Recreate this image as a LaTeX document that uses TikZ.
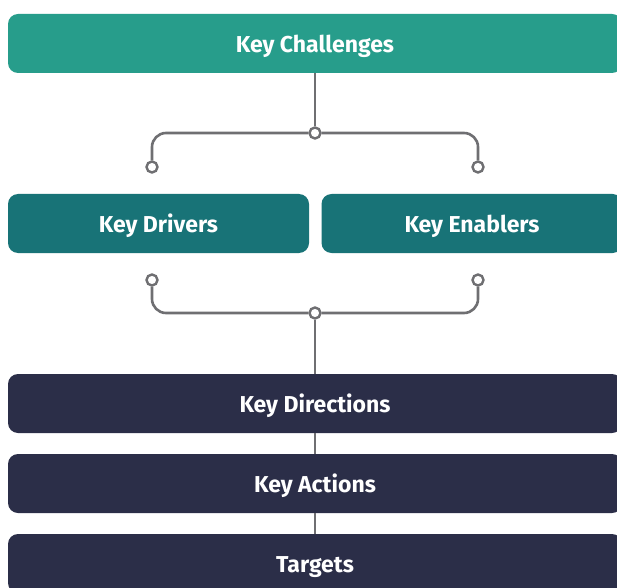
\documentclass[tikz,border=0pt]{standalone}
\usepackage{fontspec}
\setmainfont{Fira Sans}
\usepackage{tikz}
\usetikzlibrary{positioning, calc}

\definecolor{tealA}{HTML}{279D8B}
\definecolor{tealB}{HTML}{187377}
\definecolor{navy}{HTML}{2B2E48}
\definecolor{linegray}{HTML}{6F6F72}

\begin{document}
\begin{tikzpicture}[x=1pt, y=1pt,
    box/.style={rounded corners=10pt, minimum height=59pt, inner sep=0pt,
        text height=18.5pt, text depth=0pt,
        text=white, font=\fontsize{23}{27}\selectfont\bfseries},
    wide/.style={box, minimum width=614pt},
    half/.style={box, minimum width=301pt},
    conn/.style={draw=linegray, line width=2.6pt},
    jdot/.style={circle, draw=linegray, line width=2.4pt, fill=white, minimum size=11pt, inner sep=0pt}]
    % Canvas (picture is cut at the right and bottom edges)
    \clip (0,0) rectangle (617,587);
    \fill[white] (0,0) rectangle (617,587);

    % Top box
    \node[wide, fill=tealA] (chal) at (315,543.5) {Key Challenges};

    % Middle pair
    \node[half, fill=tealB] (drv) at (158.5,363.5) {Key Drivers};
    \node[half, fill=tealB] (enb) at (472,363.5) {Key Enablers};

    % Bottom stack
    \node[wide, fill=navy] (dir) at (315,183.5) {Key Directions};
    \node[wide, fill=navy] (act) at (315,103.5) {Key Actions};
    \node[wide, fill=navy] (tgt) at (315,23.5) {Targets};

    % Upper bracket
    \node[jdot] (jup) at (315,454) {};
    \node[jdot] (jupl) at (152,420) {};
    \node[jdot] (jupr) at (478,420) {};
    \draw[conn] (chal) -- (jup);
    \draw[conn, rounded corners=14pt] (jupl) |- (jup);
    \draw[conn, rounded corners=14pt] (jupr) |- (jup);

    % Lower bracket
    \node[jdot] (jlo) at (315,274) {};
    \node[jdot] (jlol) at (152,307) {};
    \node[jdot] (jlor) at (478,307) {};
    \draw[conn, rounded corners=14pt] (jlol) |- (jlo);
    \draw[conn, rounded corners=14pt] (jlor) |- (jlo);
    \draw[conn] (jlo) -- (dir);

    % Stack links
    \draw[conn] (dir) -- (act);
    \draw[conn] (act) -- (tgt);
\end{tikzpicture}
\end{document}
